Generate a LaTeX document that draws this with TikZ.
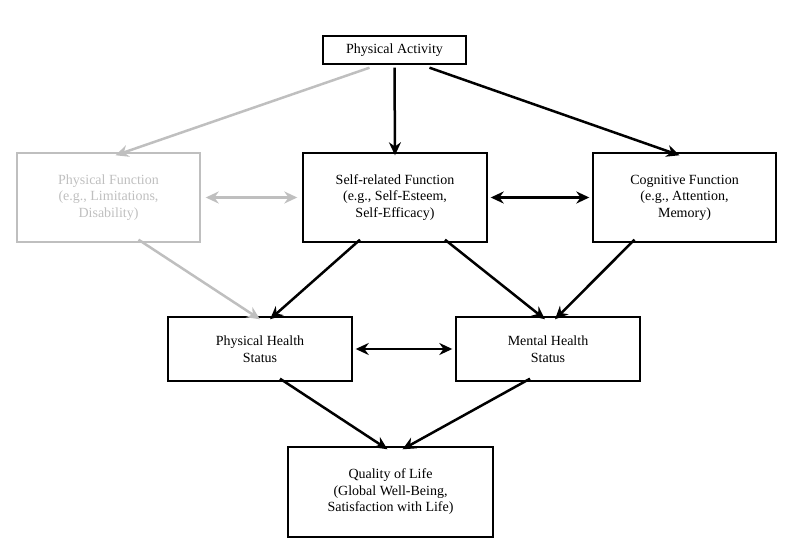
\documentclass[tikz,border=0pt]{standalone}
\usepackage{fontspec}
\setmainfont{Liberation Serif}
\usetikzlibrary{arrows.meta}
\begin{document}
\begin{tikzpicture}[x=1pt,y=-1pt,
  box/.style={draw,line width=1.4pt,align=center,inner sep=0pt,font=\fontsize{14}{16.5}\selectfont},
  gbox/.style={box,draw=black!25,text=black!25},
  arr/.style={line width=2.5pt,-{Stealth[length=13pt,width=12pt]}},
  darr/.style={line width=2.5pt,{Stealth[length=13pt,width=12pt]}-{Stealth[length=13pt,width=12pt]}},
  garr/.style={arr,draw=black!25},
  gdarr/.style={darr,draw=black!25}]
\useasboundingbox (0,0) rectangle (800,553);
\node[box,minimum width=143,minimum height=28] (pa) at (394.5,50) {Physical Activity};
\node[gbox,minimum width=183,minimum height=89] (pf) at (108.5,197.5) {Physical Function\\(e.g., Limitations,\\Disability)};
\node[box,minimum width=184,minimum height=89] (sr) at (395,197.5) {Self-related Function\\(e.g., Self-Esteem,\\Self-Efficacy)};
\node[box,minimum width=183,minimum height=89] (cf) at (684.5,197.5) {Cognitive Function\\(e.g., Attention,\\Memory)};
\node[box,minimum width=184,minimum height=64] (ph) at (260,349) {Physical Health\\Status};
\node[box,minimum width=184,minimum height=64] (mh) at (548,349) {Mental Health\\Status};
\node[box,minimum width=205,minimum height=90] (ql) at (390.5,492) {Quality of Life\\(Global Well-Being,\\Satisfaction with Life)};
\draw[garr] ([xshift=-25pt,yshift=-3pt]pa.south) -- ([xshift=7pt,yshift=-3pt]pf.north);
\draw[arr] ([yshift=-3pt]pa.south) -- ([yshift=-3pt]sr.north);
\draw[arr] ([xshift=35pt,yshift=-3pt]pa.south) -- ([xshift=-5pt,yshift=-3pt]cf.north);
\draw[gdarr] ([xshift=5pt]pf.east) -- ([xshift=-5pt]sr.west);
\draw[darr] ([xshift=3pt]sr.east) -- ([xshift=-3pt]cf.west);
\draw[garr] ([xshift=30pt,yshift=3pt]pf.south) -- ([yshift=-3pt]ph.north);
\draw[arr] ([xshift=-35pt,yshift=3pt]sr.south) -- ([xshift=10pt,yshift=-3pt]ph.north);
\draw[arr] ([xshift=50pt,yshift=3pt]sr.south) -- ([xshift=-3pt,yshift=-3pt]mh.north);
\draw[arr] ([xshift=-50pt,yshift=3pt]cf.south) -- ([xshift=7pt,yshift=-3pt]mh.north);
\draw[darr] ([xshift=3pt]ph.east) -- ([xshift=-3pt]mh.west);
\draw[arr] ([xshift=20pt,yshift=3pt]ph.south) -- ([xshift=-3pt,yshift=-3pt]ql.north);
\draw[arr] ([xshift=-18pt,yshift=3pt]mh.south) -- ([xshift=12pt,yshift=-3pt]ql.north);
\end{tikzpicture}
\end{document}
